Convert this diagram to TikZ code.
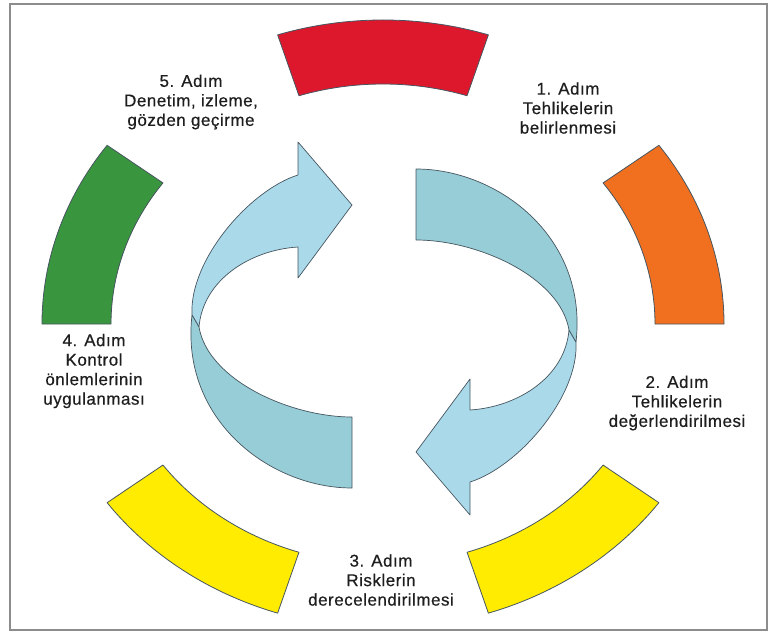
\documentclass[tikz,border=0pt]{standalone}
\usepackage{fontspec}
\setmainfont{Liberation Sans}[LetterSpace=3.0,FakeBold=0.5]
\usetikzlibrary{calc}
\definecolor{segred}{RGB}{222,24,44}
\definecolor{segorange}{RGB}{240,112,32}
\definecolor{segyellow}{RGB}{255,236,0}
\definecolor{seggreen}{RGB}{58,150,62}
\definecolor{lightblue}{RGB}{170,218,234}
\definecolor{darkblue}{RGB}{150,205,214}
\definecolor{edgegray}{RGB}{70,85,95}
\definecolor{framegray}{RGB}{140,140,140}
\definecolor{txt}{RGB}{30,30,30}
\begin{document}
\begin{tikzpicture}[x=1pt,y=1pt,
  seg/.style={draw=edgegray,line width=0.8pt,line join=round},
  ribbon/.style={draw=edgegray,line width=0.7pt,line join=round},
  lbl/.style={align=center,inner sep=0pt,text=txt,font=\fontsize{17}{19.5}\selectfont}]
\useasboundingbox (0,0) rectangle (771,633);
\draw[framegray,line width=1.6pt] (10,3) rectangle (767,629);
% coloured ring segments (ellipse centre 383,309)
\begin{scope}[shift={(383,309)}]
\foreach \a/\b/\c in {72/108/segred, 0/36/segorange, -72/-36/segyellow, 216/252/segyellow, 144/180/seggreen}{
  \path[seg,fill=\c] (\a:341 and 304) arc[start angle=\a, end angle=\b, x radius=341, y radius=304]
    -- (\b:272 and 240) arc[start angle=\b, end angle=\a, x radius=272, y radius=240] -- cycle;
}
\end{scope}
% twisted arrows
\foreach \r in {0,180}{
\begin{scope}[rotate around={\r:(384,304.5)}]
  \coordinate (f1) at (192,318);
  \coordinate (f2) at (199,306);
  \path[ribbon,fill=lightblue] (f1) .. controls (189,373) and (250,443) .. (298,458)
    -- (298,491) -- (352,428) -- (298,355) -- (298,386)
    .. controls (250,383) and (203,353) .. (f2) -- cycle;
  \path[ribbon,fill=darkblue] (f1) .. controls (180,213) and (270,145) .. (352,145)
    -- (352,216) .. controls (290,216) and (208,253) .. (f2) -- cycle;
\end{scope}
}
% labels
\node[lbl] (s1) at (568,525) {1. Adım\\Tehlikelerin\\belirlenmesi};
\node[lbl] (s2) at (677,230) {2. Adım\\Tehlikelerin\\değerlendirilmesi};
\node[lbl] (s3) at (381,53) {3. Adım\\Risklerin\\derecelendirilmesi};
\node[lbl] (s4) at (94,262) {4. Adım\\Kontrol\\önlemlerinin\\uygulanması};
\node[lbl] (s5) at (191,531) {5. Adım\\Denetim, izleme,\\gözden geçirme};
\end{tikzpicture}
\end{document}
